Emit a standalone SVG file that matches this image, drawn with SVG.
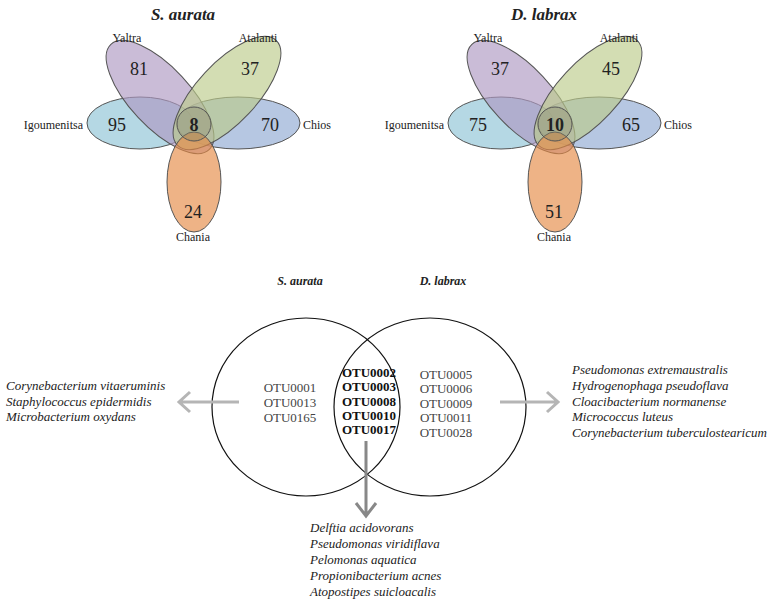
<svg xmlns="http://www.w3.org/2000/svg" width="773" height="603" viewBox="0 0 773 603" font-family="'Liberation Serif', 'DejaVu Serif', serif">
<style>
text{font-family:'Liberation Serif','DejaVu Serif',serif;fill:#222}
.t{font-size:17px;font-weight:bold;font-style:italic;text-anchor:middle}
.lb{font-size:12px}
.n{font-size:18px;text-anchor:middle}
.e{stroke:#555;stroke-width:1;fill-opacity:0.65}
.o{font-size:13px;text-anchor:middle;fill:#444}
.ob{font-size:13px;text-anchor:middle;font-weight:bold;fill:#111}
.sp{font-size:13px;font-style:italic}
.c{fill:none;stroke:#111;stroke-width:1.2}
.a{fill:none;stroke-width:3}
</style>
<g id="venn-aurata">
<text class="t" x="183" y="20">S. aurata</text>
<ellipse class="e" cx="140" cy="123" rx="53" ry="26" fill="#8ec3d6"/>
<ellipse class="e" cx="238" cy="123" rx="62" ry="26" fill="#8fa9d3"/>
<ellipse class="e" cx="160" cy="97" rx="72" ry="30" transform="rotate(47 160 97)" fill="#ad98c2"/>
<ellipse class="e" cx="227" cy="93" rx="72" ry="30" transform="rotate(-47 227 93)" fill="#bccb8a"/>
<ellipse class="e" cx="194" cy="182" rx="27" ry="50" fill="#e58a45"/>
<circle cx="194" cy="124" r="17" fill="#8a8a6a" fill-opacity="0.35" stroke="#555"/>
<text class="lb" x="127" y="42" text-anchor="middle">Yaltra</text>
<text class="lb" x="258" y="42" text-anchor="middle">Atalanti</text>
<text class="lb" x="83" y="129" text-anchor="end">Igoumenitsa</text>
<text class="lb" x="303" y="129">Chios</text>
<text class="lb" x="193" y="241" text-anchor="middle">Chania</text>
<text class="n" x="139" y="75">81</text>
<text class="n" x="250" y="75">37</text>
<text class="n" x="117" y="131">95</text>
<text class="n" x="270" y="131">70</text>
<text class="n" x="193" y="218">24</text>
<text class="n" x="194" y="131" font-weight="bold">8</text>
</g>
<g id="venn-labrax" transform="translate(361 0)">
<text class="t" x="183" y="20">D. labrax</text>
<ellipse class="e" cx="140" cy="123" rx="53" ry="26" fill="#8ec3d6"/>
<ellipse class="e" cx="238" cy="123" rx="62" ry="26" fill="#8fa9d3"/>
<ellipse class="e" cx="160" cy="97" rx="72" ry="30" transform="rotate(47 160 97)" fill="#ad98c2"/>
<ellipse class="e" cx="227" cy="93" rx="72" ry="30" transform="rotate(-47 227 93)" fill="#bccb8a"/>
<ellipse class="e" cx="194" cy="182" rx="27" ry="50" fill="#e58a45"/>
<circle cx="194" cy="124" r="17" fill="#8a8a6a" fill-opacity="0.35" stroke="#555"/>
<text class="lb" x="127" y="42" text-anchor="middle">Yaltra</text>
<text class="lb" x="258" y="42" text-anchor="middle">Atalanti</text>
<text class="lb" x="83" y="129" text-anchor="end">Igoumenitsa</text>
<text class="lb" x="303" y="129">Chios</text>
<text class="lb" x="193" y="241" text-anchor="middle">Chania</text>
<text class="n" x="139" y="75">37</text>
<text class="n" x="250" y="75">45</text>
<text class="n" x="117" y="131">75</text>
<text class="n" x="270" y="131">65</text>
<text class="n" x="193" y="218">51</text>
<text class="n" x="194" y="131" font-weight="bold">10</text>
</g>
<g id="venn-otu">
<text x="300" y="285" font-size="12" font-weight="bold" font-style="italic" text-anchor="middle">S. aurata</text>
<text x="443" y="285" font-size="12" font-weight="bold" font-style="italic" text-anchor="middle">D. labrax</text>
<ellipse class="c" cx="306" cy="407" rx="94" ry="89"/>
<ellipse class="c" cx="430" cy="407" rx="96" ry="89"/>
</g>
<g id="otu-left">
<text class="o" x="290" y="392">OTU0001</text>
<text class="o" x="290" y="407">OTU0013</text>
<text class="o" x="290" y="422">OTU0165</text>
</g>
<g id="otu-shared">
<text class="ob" x="369" y="377">OTU0002</text>
<text class="ob" x="369" y="391">OTU0003</text>
<text class="ob" x="369" y="406">OTU0008</text>
<text class="ob" x="369" y="420">OTU0010</text>
<text class="ob" x="369" y="434">OTU0017</text>
</g>
<g id="otu-right">
<text class="o" x="446" y="379">OTU0005</text>
<text class="o" x="446" y="393">OTU0006</text>
<text class="o" x="446" y="408">OTU0009</text>
<text class="o" x="446" y="422">OTU0011</text>
<text class="o" x="446" y="437">OTU0028</text>
</g>
<g id="connectors">
<path class="a" stroke="#b5b5b5" d="M239 402H179M190 392L179 402L190 412"/>
<path class="a" stroke="#b5b5b5" d="M500 402H558M547 392L558 402L547 412"/>
<path class="a" stroke="#888" d="M366 441V516M356 503L366 516L376 503"/>
</g>
<g id="species-left">
<text class="sp" x="6" y="390">Corynebacterium vitaeruminis</text>
<text class="sp" x="6" y="406">Staphylococcus epidermidis</text>
<text class="sp" x="6" y="421">Microbacterium oxydans</text>
</g>
<g id="species-right">
<text class="sp" x="572" y="374">Pseudomonas extremaustralis</text>
<text class="sp" x="572" y="390">Hydrogenophaga pseudoflava</text>
<text class="sp" x="572" y="406">Cloacibacterium normanense</text>
<text class="sp" x="572" y="421">Micrococcus luteus</text>
<text class="sp" x="572" y="437">Corynebacterium tuberculostearicum</text>
</g>
<g id="species-bottom">
<text class="sp" x="310" y="532">Delftia acidovorans</text>
<text class="sp" x="310" y="548">Pseudomonas viridiflava</text>
<text class="sp" x="310" y="564">Pelomonas aquatica</text>
<text class="sp" x="310" y="580">Propionibacterium acnes</text>
<text class="sp" x="310" y="596">Atopostipes suicloacalis</text>
</g>
</svg>
